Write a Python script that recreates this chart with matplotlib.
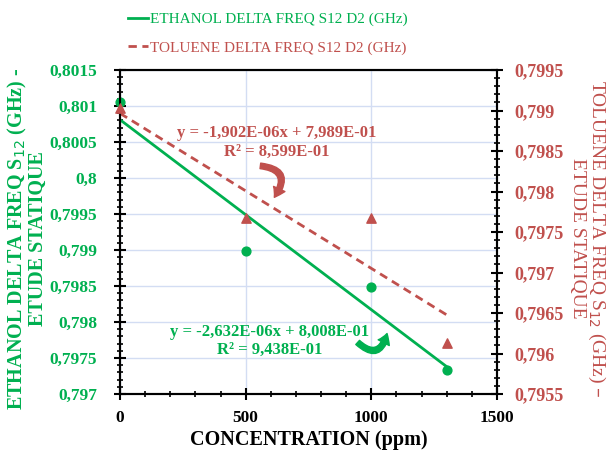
import numpy as np
import matplotlib
matplotlib.use("Agg")
import matplotlib.pyplot as plt
from matplotlib.ticker import MultipleLocator, FuncFormatter
from matplotlib.patches import FancyArrowPatch

plt.rcParams['font.family'] = ['Liberation Serif', 'DejaVu Serif']

conc = [0, 500, 1000, 1300]
ethanol = [0.80105, 0.79898, 0.79849, 0.79733]
toluene = [0.79903, 0.79767, 0.79767, 0.79613]

green = '#00B050'
red = '#C0504D'
grid_col = '#D3DDF3'


def comma_fmt(v, pos):
    s = f"{v:.4f}".rstrip('0').rstrip('.')
    return s.replace('.', ',')


fig = plt.figure(figsize=(6.13, 4.55), dpi=100)
ax = fig.add_axes([120/613, 1-394/455, 377/613, 324/455])
ax2 = ax.twinx()

# trend lines
x = np.array(conc)
pe = np.polyfit(x, ethanol, 1)
pt = np.polyfit(x, toluene, 1)
xl = np.array([0, 1300])

l1, = ax.plot(xl, np.polyval(pe, xl), color=green, lw=2)
ax.scatter(conc, ethanol, color=green, s=40, zorder=5, clip_on=False)
l2, = ax2.plot(xl, np.polyval(pt, xl), color=red, lw=2, ls=(0, (3, 2)))
ax2.scatter(conc, toluene, color=red, marker='^', s=45, zorder=5, clip_on=False)

ax.set_xlim(0, 1500)
ax.set_ylim(0.797, 0.8015)
ax2.set_ylim(0.7955, 0.7995)

ax.xaxis.set_major_locator(MultipleLocator(500))
ax.xaxis.set_minor_locator(MultipleLocator(100))
ax.yaxis.set_major_locator(MultipleLocator(0.0005))
ax.yaxis.set_minor_locator(MultipleLocator(0.0001))
ax2.yaxis.set_major_locator(MultipleLocator(0.0005))
ax2.yaxis.set_minor_locator(MultipleLocator(0.0001))
ax.yaxis.set_major_formatter(FuncFormatter(comma_fmt))
ax2.yaxis.set_major_formatter(FuncFormatter(comma_fmt))

ax.grid(True, which='major', color=grid_col, lw=1)
ax.set_axisbelow(True)

for a in (ax, ax2):
    a.tick_params(which='major', direction='inout', length=9, width=1.5)
    a.tick_params(which='minor', direction='inout', length=5, width=1.2)
    for sp in a.spines.values():
        sp.set_linewidth(1.5)
ax.tick_params(axis='y', labelcolor=green, labelsize=12.5, pad=12)
ax.tick_params(axis='x', labelsize=12.5, pad=7)
ax2.tick_params(axis='y', labelcolor=red, labelsize=13, pad=8)
for lab in ax.get_xticklabels() + ax.get_yticklabels() + ax2.get_yticklabels():
    lab.set_fontweight('bold')

ax.set_xlabel('CONCENTRATION (ppm)', fontsize=14.5, fontweight='bold', labelpad=3)
ax.set_ylabel('ETHANOL DELTA FREQ S$_{12}$ (GHz) -\nETUDE STATIQUE', color=green,
              fontsize=14.5, fontweight='bold', linespacing=0.95)
ax.yaxis.set_label_coords(-0.19, 0.48)
ax2.set_ylabel('TOLUENE DELTA FREQ S$_{12}$ (GHz) \u2013\nETUDE STATIQUE', color=red,
               fontsize=14, rotation=-90, rotation_mode='anchor',
               va='bottom', ha='center', linespacing=1.05)
ax2.yaxis.set_label_coords(1.19, 0.48)

# trendline equations
ax.text(0.416, 0.806, 'y = -1,902E-06x + 7,989E-01', transform=ax.transAxes,
        color=red, fontsize=12, fontweight='bold', ha='center', va='center')
ax.text(0.416, 0.747, 'R\u00b2 = 8,599E-01', transform=ax.transAxes,
        color=red, fontsize=12, fontweight='bold', ha='center', va='center')
ax.text(0.398, 0.191, 'y = -2,632E-06x + 8,008E-01', transform=ax.transAxes,
        color=green, fontsize=12, fontweight='bold', ha='center', va='center')
ax.text(0.398, 0.136, 'R\u00b2 = 9,438E-01', transform=ax.transAxes,
        color=green, fontsize=12, fontweight='bold', ha='center', va='center')

# curved arrows
ar1 = FancyArrowPatch((0.365, 0.705), (0.405, 0.600), transform=ax.transAxes,
                      connectionstyle='arc3,rad=-0.9',
                      arrowstyle='simple,head_width=9,head_length=7,tail_width=4',
                      color=red, zorder=6)
ar2 = FancyArrowPatch((0.625, 0.165), (0.710, 0.195), transform=ax.transAxes,
                      connectionstyle='arc3,rad=0.9',
                      arrowstyle='simple,head_width=9,head_length=7,tail_width=4',
                      color=green, zorder=6)
ax.add_patch(ar1)
ax.add_patch(ar2)

leg = fig.legend([l1, l2], ['ETHANOL DELTA FREQ S12 D2 (GHz)', 'TOLUENE DELTA FREQ S12 D2 (GHz)'],
                 loc='center', bbox_to_anchor=(0.437, 0.926), frameon=False,
                 fontsize=11, handlelength=1.3, handletextpad=0.1, labelspacing=0.95,
                 labelcolor='linecolor')

fig.savefig('out.png', dpi=100)
